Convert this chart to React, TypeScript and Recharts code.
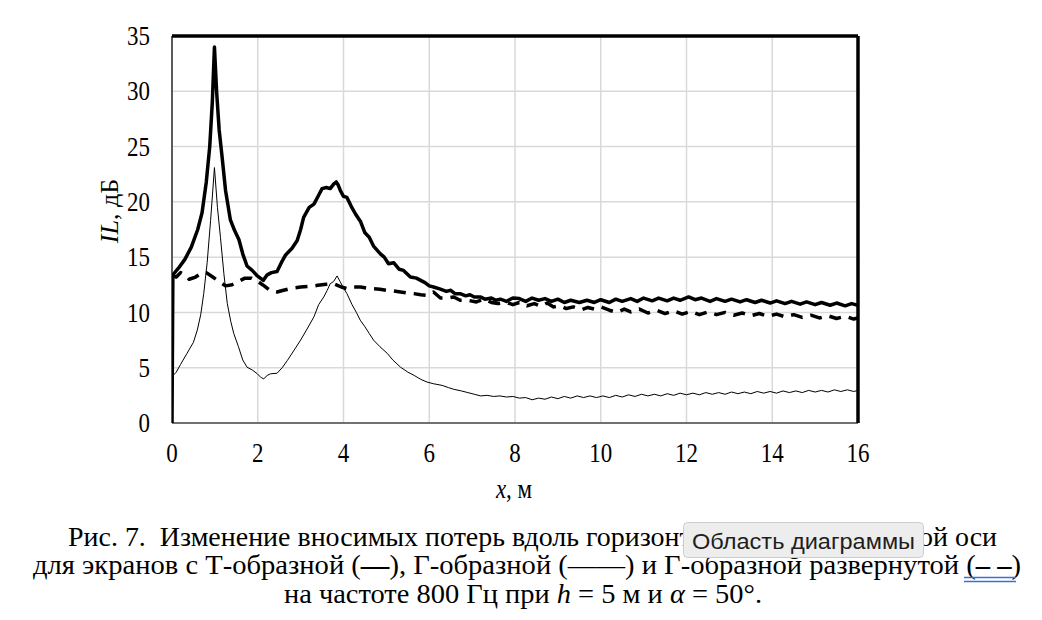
import React from "react";
import { LineChart, Line, XAxis, YAxis, CartesianGrid, ReferenceLine } from "recharts";

// Т-образный экран (bold solid)
const tX = [0, 0.02, 0.15, 0.3, 0.45, 0.6, 0.7, 0.8, 0.88, 0.94, 0.99, 1.04, 1.1, 1.17, 1.25, 1.36, 1.46, 1.56, 1.65, 1.75, 1.87, 1.99, 2.13, 2.22, 2.32, 2.45, 2.55, 2.65, 2.8, 2.92, 3.0, 3.07, 3.2, 3.31, 3.42, 3.5, 3.6, 3.69, 3.77, 3.83, 3.88, 3.93, 4.0, 4.08, 4.18, 4.28, 4.4, 4.5, 4.6, 4.7, 4.86, 4.95, 5.05, 5.17, 5.3, 5.4, 5.56, 5.7, 5.8, 5.9, 6.0, 6.1, 6.26, 6.4, 6.5, 6.6, 6.72, 6.85, 6.95, 7.05, 7.19, 7.3, 7.45, 7.55, 7.66, 7.8, 7.95, 8.1, 8.25, 8.4, 8.55, 8.7, 8.85, 9.0, 9.15, 9.3, 9.5, 9.68, 9.85, 10.0, 10.2, 10.35, 10.5, 10.7, 10.85, 11.0, 11.2, 11.35, 11.55, 11.7, 11.85, 12.05, 12.2, 12.35, 12.55, 12.7, 12.9, 13.05, 13.25, 13.4, 13.6, 13.75, 13.95, 14.1, 14.3, 14.45, 14.65, 14.8, 15.0, 15.15, 15.35, 15.5, 15.7, 15.85, 16.0];
const tY = [0, 13.4, 14.0, 14.8, 15.9, 17.5, 19.0, 21.8, 25.0, 29.0, 34.0, 30.0, 26.5, 24.0, 21.0, 18.4, 17.4, 16.6, 15.3, 14.2, 13.8, 13.3, 12.9, 13.4, 13.6, 13.7, 14.5, 15.2, 15.8, 16.5, 17.5, 18.6, 19.5, 19.8, 20.6, 21.2, 21.3, 21.2, 21.6, 21.8, 21.5, 21.0, 20.5, 20.4, 19.6, 18.9, 18.2, 17.2, 16.8, 16.0, 15.3, 15.0, 14.4, 14.5, 13.9, 13.8, 13.2, 13.1, 12.9, 12.7, 12.4, 12.3, 12.1, 11.9, 12.0, 11.7, 11.7, 11.5, 11.6, 11.4, 11.4, 11.2, 11.3, 11.1, 11.2, 11.0, 11.3, 11.25, 11.0, 11.3, 11.1, 11.25, 11.0, 11.2, 10.9, 11.1, 10.9, 11.1, 10.9, 11.15, 10.9, 11.2, 11.0, 11.25, 11.0, 11.3, 11.05, 11.3, 11.05, 11.3, 11.1, 11.4, 11.15, 11.3, 11.0, 11.25, 11.0, 11.2, 10.95, 11.15, 10.9, 11.1, 10.85, 11.05, 10.8, 11.0, 10.75, 10.95, 10.7, 10.9, 10.65, 10.85, 10.6, 10.8, 10.65];

// Г-образный экран (thin solid)
const gX = [0, 0.1, 0.2, 0.35, 0.5, 0.59, 0.67, 0.74, 0.82, 0.9, 0.99, 1.06, 1.13, 1.21, 1.29, 1.37, 1.44, 1.55, 1.65, 1.75, 1.87, 1.99, 2.08, 2.14, 2.22, 2.3, 2.45, 2.57, 2.69, 2.85, 3.0, 3.15, 3.31, 3.42, 3.54, 3.62, 3.69, 3.77, 3.85, 3.92, 4.0, 4.08, 4.2, 4.3, 4.39, 4.5, 4.6, 4.7, 4.85, 5.02, 5.15, 5.33, 5.5, 5.65, 5.8, 5.95, 6.1, 6.3, 6.45, 6.57, 6.75, 6.9, 7.05, 7.2, 7.35, 7.5, 7.65, 7.8, 7.95, 8.1, 8.25, 8.4, 8.55, 8.7, 8.85, 9.0, 9.15, 9.3, 9.45, 9.6, 9.75, 9.9, 10.05, 10.2, 10.35, 10.5, 10.65, 10.8, 10.95, 11.1, 11.25, 11.4, 11.55, 11.7, 11.85, 12.0, 12.15, 12.3, 12.45, 12.6, 12.75, 12.9, 13.05, 13.2, 13.35, 13.5, 13.65, 13.8, 13.95, 14.1, 14.25, 14.4, 14.55, 14.7, 14.85, 15.0, 15.15, 15.3, 15.45, 15.6, 15.75, 15.9, 16.0];
const gY = [4.2, 4.6, 5.3, 6.3, 7.3, 8.4, 9.8, 11.7, 14.5, 18.3, 23.1, 19.5, 16.8, 13.5, 10.8, 9.2, 8.1, 6.9, 5.7, 5.05, 4.8, 4.45, 4.1, 4.0, 4.3, 4.45, 4.5, 5.0, 5.65, 6.6, 7.5, 8.5, 9.6, 10.7, 11.4, 12.0, 12.6, 12.8, 13.3, 12.8, 12.2, 11.7, 10.7, 10.0, 9.3, 8.7, 8.1, 7.5, 6.9, 6.3, 5.7, 5.05, 4.6, 4.3, 3.95, 3.7, 3.55, 3.4, 3.2, 3.05, 2.9, 2.75, 2.6, 2.45, 2.5, 2.4, 2.45, 2.35, 2.4, 2.25, 2.3, 2.1, 2.25, 2.15, 2.35, 2.2, 2.4, 2.25, 2.45, 2.3, 2.45, 2.3, 2.45, 2.3, 2.5, 2.35, 2.55, 2.4, 2.6, 2.45, 2.6, 2.45, 2.65, 2.5, 2.7, 2.55, 2.7, 2.55, 2.75, 2.6, 2.75, 2.6, 2.8, 2.65, 2.8, 2.65, 2.85, 2.7, 2.85, 2.7, 2.9, 2.75, 2.9, 2.75, 2.95, 2.8, 2.95, 2.8, 3.0, 2.85, 3.0, 2.85, 2.95];

// Г-образный развернутый экран (bold dashed)
const rX = [0, 0.1, 0.2, 0.3, 0.4, 0.55, 0.7, 0.8, 0.95, 1.1, 1.25, 1.4, 1.55, 1.7, 1.85, 2.0, 2.15, 2.3, 2.45, 2.6, 2.8, 3.0, 3.2, 3.4, 3.6, 3.77, 3.95, 4.08, 4.24, 4.4, 4.55, 4.7, 4.85, 5.0, 5.15, 5.33, 5.5, 5.64, 5.8, 5.95, 6.1, 6.26, 6.4, 6.57, 6.72, 6.9, 7.1, 7.27, 7.45, 7.6, 7.8, 7.95, 8.1, 8.28, 8.45, 8.6, 8.75, 8.9, 9.05, 9.2, 9.36, 9.55, 9.7, 9.85, 10.0, 10.2, 10.38, 10.55, 10.7, 10.9, 11.1, 11.3, 11.5, 11.7, 11.9, 12.1, 12.3, 12.5, 12.7, 12.9, 13.1, 13.3, 13.5, 13.7, 13.9, 14.1, 14.3, 14.5, 14.7, 14.9, 15.1, 15.3, 15.5, 15.7, 15.9, 16.0];
const rY = [13.3, 13.2, 13.6, 13.4, 13.0, 13.2, 13.6, 13.6, 13.2, 12.8, 12.4, 12.5, 12.8, 13.1, 13.1, 12.8, 12.4, 11.95, 11.85, 12.0, 12.2, 12.3, 12.35, 12.45, 12.55, 12.6, 12.3, 12.15, 12.3, 12.3, 12.2, 12.15, 12.1, 12.0, 11.95, 11.85, 11.75, 11.7, 11.6, 11.55, 11.85, 11.3, 11.3, 11.4, 11.1, 11.1, 10.95, 11.2, 10.9, 10.8, 10.9, 10.7, 10.9, 10.6, 10.8, 10.55, 10.85, 10.5, 10.6, 10.35, 10.5, 10.25, 10.45, 10.3, 10.5, 10.2, 10.0, 10.3, 10.05, 10.3, 9.95, 10.2, 9.9, 10.15, 9.85, 10.1, 9.8, 10.05, 9.8, 10.0, 9.75, 9.95, 9.7, 9.9, 9.65, 9.85, 9.6, 9.8, 9.55, 9.75, 9.5, 9.7, 9.45, 9.65, 9.4, 9.5];

const xTicks = [0, 2, 4, 6, 8, 10, 12, 14, 16];
const yTicks = [0, 5, 10, 15, 20, 25, 30, 35];

const toData = (xs: number[], ys: number[]) => xs.map((x, i) => ({ x, y: ys[i] }));
const tData = toData(tX, tY);
const gData = toData(gX, gY);
const rData = toData(rX, rY);

const SERIF = "'Liberation Serif', 'Times New Roman', serif";

const YTick = (props: any) => {
  const { y, payload } = props;
  return (
    <text transform={`translate(150, ${y}) scale(0.85, 1)`} textAnchor="end" dy="0.34em" fontSize={27} fontFamily={SERIF} fill="#000">
      {payload.value}
    </text>
  );
};

const XTick = (props: any) => {
  const { x, payload } = props;
  return (
    <text transform={`translate(${x}, 462) scale(0.85, 1)`} textAnchor="middle" fontSize={27} fontFamily={SERIF} fill="#000">
      {payload.value}
    </text>
  );
};

export default function App() {
  return (
    <div style={{ position: "absolute", left: 0, top: 0, width: 1042, height: 620, background: "#fff", overflow: "hidden" }}>
      <div style={{ position: "absolute", left: 0, top: 0 }}>
        <LineChart width={1042} height={620} margin={{ top: 36, right: 184, bottom: 147, left: 112 }}>
          <CartesianGrid stroke="#d9d9d9" strokeWidth={1.5} />
          <XAxis
            type="number"
            dataKey="x"
            domain={[0, 16]}
            ticks={xTicks}
            height={50}
            tickLine={false}
            axisLine={{ stroke: "#000", strokeWidth: 1.2 }}
            tick={<XTick />}
            allowDataOverflow
          />
          <YAxis
            type="number"
            domain={[0, 35]}
            ticks={yTicks}
            width={60}
            tickLine={false}
            axisLine={{ stroke: "#000", strokeWidth: 1.2 }}
            tick={<YTick />}
            allowDataOverflow
          />
          <ReferenceLine y={35} stroke="#000" strokeWidth={3.5} />
          <ReferenceLine x={16} stroke="#000" strokeWidth={3.5} />
          <Line data={gData} dataKey="y" type="linear" stroke="#000" strokeWidth={1} dot={false} isAnimationActive={false} />
          <Line data={rData} dataKey="y" type="linear" stroke="#000" strokeWidth={3.5} strokeDasharray="12 8" strokeLinejoin="round" dot={false} isAnimationActive={false} />
          <Line data={tData} dataKey="y" type="linear" stroke="#000" strokeWidth={3.5} strokeLinejoin="round" dot={false} isAnimationActive={false} />
        </LineChart>
      </div>
      <svg width={1042} height={620} style={{ position: "absolute", left: 0, top: 0, pointerEvents: "none" }}>
        <text transform="translate(118, 211) rotate(-90)" textAnchor="middle" fontSize={26} fontFamily={SERIF} fill="#000">
          <tspan fontStyle="italic">IL</tspan>, дБ
        </text>
        <text transform="translate(514, 498) scale(0.85, 1)" textAnchor="middle" fontSize={27} fontFamily={SERIF} fill="#000">
          <tspan fontStyle="italic">x</tspan>, м
        </text>
        <text x={68} y={546} fontSize={27.5} fontFamily={SERIF} fill="#000" textLength={929} lengthAdjust="spacingAndGlyphs" style={{ whiteSpace: "pre" }}>
          Рис. 7.  Изменение вносимых потерь вдоль горизонтальной координатной оси
        </text>
        <text x={33} y={574} fontSize={28} fontFamily={SERIF} fill="#000" textLength={988} lengthAdjust="spacingAndGlyphs" style={{ whiteSpace: "pre" }}>
          для экранов с Т-образной (<tspan fontWeight="bold">—</tspan>), Г-образной (——) и Г-образной развернутой (<tspan fontWeight="bold">– –</tspan>)
        </text>
        <line x1={964} y1={577.5} x2={1016} y2={577.5} stroke="#3b6fd6" strokeWidth={1.6} />
        <line x1={964} y1={581.5} x2={1016} y2={581.5} stroke="#3b6fd6" strokeWidth={1.6} />
        <text x={284} y={603} fontSize={28} fontFamily={SERIF} fill="#000" textLength={478} lengthAdjust="spacingAndGlyphs" style={{ whiteSpace: "pre" }}>
          на частоте 800 Гц при <tspan fontStyle="italic">h</tspan> = 5 м и <tspan fontStyle="italic">α</tspan> = 50°.
        </text>
        <rect x={683.5} y={522.5} width={240} height={35} rx={4} fill="#ededed" stroke="#cdcdcd" />
        <text x={692} y={549} fontSize={22} fontFamily="'Liberation Sans', Arial, sans-serif" fill="#1e1e1e" textLength={223} lengthAdjust="spacingAndGlyphs">
          Область диаграммы
        </text>
      </svg>
    </div>
  );
}
